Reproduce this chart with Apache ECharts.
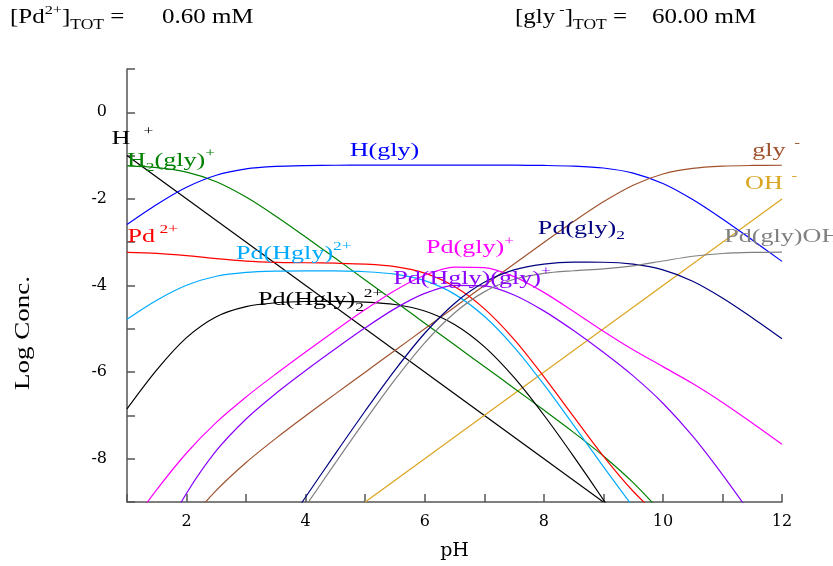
<!DOCTYPE html>
<html>
<head>
<meta charset="utf-8">
<script src="https://cdn.jsdelivr.net/npm/echarts@6/dist/echarts.min.js"></script>
<style>html,body{margin:0;padding:0;background:#fff;}#c{width:833px;height:566px;}</style>
</head>
<body>
<div id="c"></div>
<script>
// ---- data (pH grid and log concentrations) ----
const pH = [1,1.5,2,2.5,3,3.5,4,4.5,5,5.5,6,6.5,7,7.5,8,8.5,9,9.5,10,10.5,11,11.5,12];
const xTicks = [2,4,6,8,10,12];
const yTicks = [0,-2,-4,-6,-8];

const hPlusX = [1, 9];
const hPlusY = [-1, -9];
const ohX = [5, 12];
const ohY = [-9, -2];

const h2gly = [-1.239,-1.277,-1.380,-1.603,-1.958,-2.400,-2.880,-3.373,-3.871,-4.370,-4.870,-5.370,-5.871,-6.372,-6.877,-7.392,-7.937,-8.553,-9.29,-10.17,null,null,null];
const hgly = [-2.589,-2.127,-1.730,-1.453,-1.308,-1.250,-1.230,-1.223,-1.221,-1.220,-1.220,-1.220,-1.221,-1.222,-1.227,-1.242,-1.287,-1.403,-1.645,-2.016,-2.465,-2.948,-3.443];
const gly = [-11.37,-10.41,-9.51,-8.733,-8.088,-7.530,-7.010,-6.503,-6.001,-5.500,-5.000,-4.500,-4.001,-3.502,-3.007,-2.522,-2.067,-1.683,-1.425,-1.296,-1.245,-1.228,-1.223];
const pd = [-3.234,-3.257,-3.308,-3.380,-3.436,-3.464,-3.475,-3.485,-3.506,-3.564,-3.713,-4.024,-4.535,-5.244,-6.102,-7.027,-7.939,-8.752,-9.399,-9.919,null,null,null];
const pdHgly = [-4.778,-4.339,-3.993,-3.787,-3.699,-3.668,-3.660,-3.663,-3.682,-3.739,-3.888,-4.199,-4.711,-5.421,-6.284,-7.224,-8.181,-9.110,-10.0,null,null,null,null];
const pdHgly2 = [-6.847,-5.946,-5.203,-4.720,-4.487,-4.398,-4.370,-4.367,-4.383,-4.439,-4.588,-4.900,-5.412,-6.124,-6.991,-7.946,-8.948,-9.993,null,null,null,null,null];
const pdgly = [-9.653,-8.714,-7.868,-7.162,-6.574,-6.043,-5.535,-5.038,-4.557,-4.114,-3.763,-3.574,-3.586,-3.796,-4.159,-4.599,-5.056,-5.485,-5.874,-6.265,-6.701,-7.175,-7.667];
const pdHglygly = [-11.44,-10.041,-8.798,-7.815,-7.082,-6.493,-5.965,-5.462,-4.978,-4.534,-4.183,-3.995,-4.007,-4.218,-4.586,-5.041,-5.543,-6.088,-6.719,-7.480,-8.367,-9.323,-10.31];
const pdgly2 = [null,null,null,null,-11.0,-9.913,-8.885,-7.882,-6.898,-5.954,-5.103,-4.415,-3.927,-3.638,-3.506,-3.461,-3.463,-3.508,-3.639,-3.900,-4.287,-4.743,-5.229];
const pdglyOH = [null,null,null,null,-11.13,-10.10,-9.095,-8.098,-7.117,-6.174,-5.323,-4.634,-4.147,-3.856,-3.719,-3.659,-3.616,-3.545,-3.434,-3.325,-3.261,-3.235,-3.227];

// ---- styling ----
const F = '"Liberation Serif","Times New Roman",serif';
const FA = '"DejaVu Serif","Liberation Serif",serif';
const zip = (xs, ys) => xs.map((x, i) => [x, ys[i]]);

const curves = [
  {name:'H+', x:hPlusX, y:hPlusY, color:'#000000', smooth:false},
  {name:'OH-', x:ohX, y:ohY, color:'#DAA520', smooth:false},
  {name:'H2(gly)+', x:pH, y:h2gly, color:'#008000', smooth:0.3},
  {name:'H(gly)', x:pH, y:hgly, color:'#0000FF', smooth:0.3},
  {name:'gly-', x:pH, y:gly, color:'#A0522D', smooth:0.3},
  {name:'Pd2+', x:pH, y:pd, color:'#FF0000', smooth:0.3},
  {name:'Pd(Hgly)2+', x:pH, y:pdHgly, color:'#00AAFF', smooth:0.3},
  {name:'Pd(Hgly)2 2+', x:pH, y:pdHgly2, color:'#000000', smooth:0.3},
  {name:'Pd(gly)+', x:pH, y:pdgly, color:'#FF00FF', smooth:0.3},
  {name:'Pd(Hgly)(gly)+', x:pH, y:pdHglygly, color:'#8B00FF', smooth:0.3},
  {name:'Pd(gly)2', x:pH, y:pdgly2, color:'#000080', smooth:0.3},
  {name:'Pd(gly)OH', x:pH, y:pdglyOH, color:'#808080', smooth:0.3}
];

const rich = {
  n: {fontSize: 18, fontFamily: F, lineHeight: 26},
  p: {fontSize: 12, fontFamily: F, verticalAlign: 'top'},
  b: {fontSize: 12, fontFamily: F, verticalAlign: 'bottom'}
};

// labels: [text, pH, logC, color]
const labels = [
  ['{n|H}{p|   +}', 0.74, -0.62, '#000000'],
  ['{n|H}{b|2}{n|(gly)}{p|+}', 1.0, -1.13, '#008000'],
  ['{n|H(gly)}', 4.74, -0.90, '#0000FF'],
  ['{n|gly}{p|  -}', 11.5, -0.90, '#A0522D'],
  ['{n|OH}{p|  -}', 11.38, -1.66, '#DAA520'],
  ['{n|Pd}{p| 2+}', 1.01, -2.88, '#FF0000'],
  ['{n|Pd(Hgly)}{p|2+}', 2.83, -3.27, '#00AAFF'],
  ['{n|Pd(Hgly)}{b|2}{p|2+}', 3.2, -4.35, '#000000'],
  ['{n|Pd(gly)}{p|+}', 6.02, -3.15, '#FF00FF'],
  ['{n|Pd(Hgly)(gly)}{p|+}', 5.47, -3.85, '#8B00FF'],
  ['{n|Pd(gly)}{b|2}', 7.9, -2.69, '#000080'],
  ['{n|Pd(gly)OH}', 11.03, -2.88, '#808080']
];

const chart = echarts.init(document.getElementById('c'), null, {renderer: 'canvas'});
const axisLineStyle = {color: '#555', width: 1.5};

chart.setOption({
  animation: false,
  backgroundColor: '#fff',
  grid: {left: 127, right: 51, top: 69, bottom: 62, containLabel: false},
  xAxis: {
    type: 'value', min: 1, max: 12, interval: 1,
    axisLine: {show: true, onZero: false, lineStyle: axisLineStyle},
    axisTick: {show: true, inside: true, length: 8, lineStyle: axisLineStyle},
    splitLine: {show: false},
    axisLabel: {color: '#000', fontFamily: FA, fontSize: 16, margin: 12,
      formatter: v => xTicks.indexOf(v) >= 0 ? String(v) : ''},
    name: 'pH', nameLocation: 'middle', nameGap: 40,
    nameTextStyle: {color: '#000', fontFamily: FA, fontSize: 19}
  },
  yAxis: {
    type: 'value', min: -9, max: 1, interval: 1,
    axisLine: {show: true, onZero: false, lineStyle: axisLineStyle},
    axisTick: {show: true, inside: true, length: 8, lineStyle: axisLineStyle},
    splitLine: {show: false},
    axisLabel: {color: '#000', fontFamily: FA, fontSize: 16, margin: 20,
      formatter: v => yTicks.indexOf(v) >= 0 ? String(v) : ''}
  },
  series: curves.map(c => ({
    type: 'line', name: c.name, data: zip(c.x, c.y), showSymbol: false, symbol: 'none',
    smooth: c.smooth, clip: true, connectNulls: false,
    lineStyle: {color: c.color, width: 1.2}, z: 2
  }))
});

const graphics = labels.map(l => {
  const p = chart.convertToPixel({gridIndex: 0}, [l[1], l[2]]);
  return {type: 'text', x: p[0], y: p[1], scaleX: 1.45, z: 10,
    style: {text: l[0], rich: rich, fill: l[3], verticalAlign: 'middle', align: 'left'}};
});
const topRich = {
  n: {fontSize: 20, fontFamily: F, lineHeight: 28, fill: '#000'},
  p: {fontSize: 13, fontFamily: F, verticalAlign: 'top', fill: '#000'},
  b: {fontSize: 14, fontFamily: F, verticalAlign: 'bottom', fill: '#000'}
};
graphics.push({type: 'text', x: 10, y: 18, scaleX: 1.25, style: {text: '{n|[Pd}{p|2+}{n|]}{b|TOT}{n| =      0.60 mM}', rich: topRich, verticalAlign: 'middle'}});
graphics.push({type: 'text', x: 515, y: 18, scaleX: 1.25, style: {text: '{n|[gly}{p| -}{n|]}{b|TOT}{n| =    60.00 mM}', rich: topRich, verticalAlign: 'middle'}});
graphics.push({type: 'text', x: 24, y: 333, rotation: Math.PI / 2, scaleX: 1.35, style: {text: 'Log Conc.', fontFamily: F, fontSize: 20, fill: '#000', align: 'center', verticalAlign: 'middle'}});
chart.setOption({graphic: graphics});
</script>
</body>
</html>
